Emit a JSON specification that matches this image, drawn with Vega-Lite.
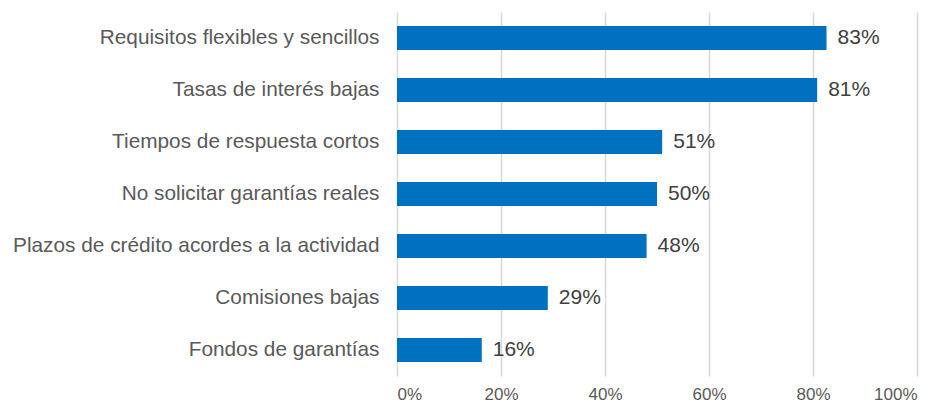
{
  "$schema": "https://vega.github.io/schema/vega-lite/v6.json",
  "width": 520,
  "height": 364,
  "autosize": {"type": "none"},
  "padding": {"left": 397, "top": 12, "right": 24, "bottom": 27},
  "background": "white",
  "config": {"view": {"stroke": null}, "font": "Liberation Sans"},
  "data": {"values": [
    {"factor": "Requisitos flexibles y sencillos", "value": 0.826, "label": "83%"},
    {"factor": "Tasas de interés bajas", "value": 0.808, "label": "81%"},
    {"factor": "Tiempos de respuesta cortos", "value": 0.51, "label": "51%"},
    {"factor": "No solicitar garantías reales", "value": 0.50, "label": "50%"},
    {"factor": "Plazos de crédito acordes a la actividad", "value": 0.48, "label": "48%"},
    {"factor": "Comisiones bajas", "value": 0.29, "label": "29%"},
    {"factor": "Fondos de garantías", "value": 0.163, "label": "16%"}
  ]},
  "encoding": {
    "y": {"field": "factor", "type": "nominal", "sort": null,
      "scale": {"paddingInner": 0.54, "paddingOuter": 0.27},
      "axis": {"title": null, "domain": false, "ticks": false, "labelPadding": 18,
        "labelFontSize": 20.8, "labelColor": "#595959", "labelFont": "Liberation Sans", "labelLimit": 500}},
    "x": {"field": "value", "type": "quantitative",
      "scale": {"domain": [0, 1], "nice": false},
      "axis": {"title": null, "format": ".0%", "values": [0, 0.2, 0.4, 0.6, 0.8, 1], "domain": false, "ticks": false,
        "labelPadding": 10, "labelFontSize": 17, "labelColor": "#595959", "labelFont": "Liberation Sans",
        "gridColor": "#D9D9D9", "gridWidth": 1.5}}
  },
  "layer": [
    {"mark": {"type": "bar", "color": "#0070C0"}},
    {"mark": {"type": "text", "align": "left", "dx": 11, "fontSize": 21, "color": "#404040", "font": "Liberation Sans"},
     "encoding": {"text": {"field": "label", "type": "nominal"}}}
  ]
}
